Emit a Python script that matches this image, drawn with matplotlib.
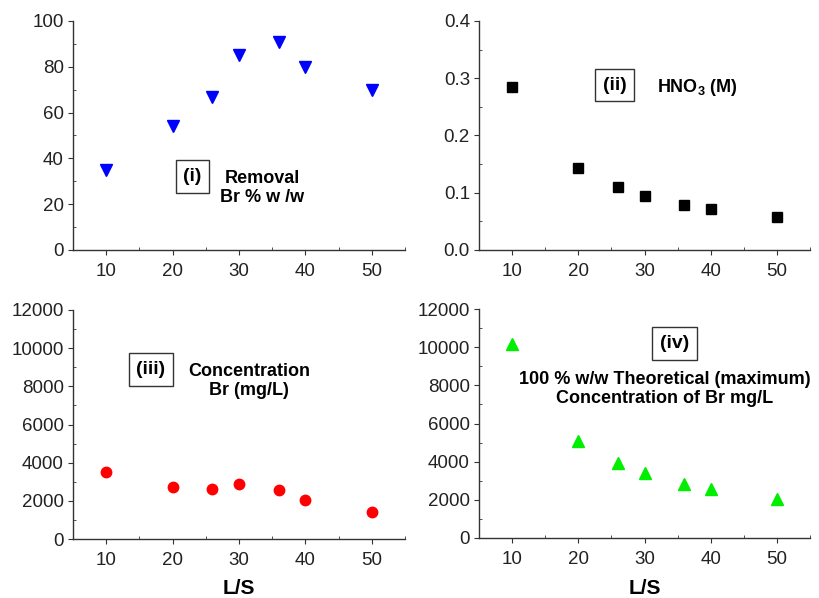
import matplotlib.pyplot as plt
from matplotlib.ticker import MultipleLocator

plt.rcParams['font.family'] = ['Liberation Sans', 'DejaVu Sans']
plt.rcParams['mathtext.fontset'] = 'custom'
plt.rcParams['mathtext.rm'] = 'Liberation Sans'
plt.rcParams['mathtext.bf'] = 'Liberation Sans:bold'

# L/S ratios
ls = [10, 20, 26, 30, 36, 40, 50]

removal = [35, 54, 67, 85, 91, 80, 70]
hno3 = [0.285, 0.143, 0.110, 0.095, 0.079, 0.072, 0.057]
conc_br = [3500, 2750, 2620, 2870, 2550, 2020, 1420]
theor_br = [10150, 5100, 3950, 3400, 2850, 2570, 2050]

fig = plt.figure(figsize=(8.19, 5.98), dpi=100)
W, H = 819, 598


def make_ax(x0, x1, ytop, ybot):
    return fig.add_axes([x0 / W, 1 - ybot / H, (x1 - x0) / W, (ybot - ytop) / H])


ax1 = make_ax(73, 405, 21, 250)
ax2 = make_ax(479, 810, 21, 250)
ax3 = make_ax(73, 405, 310, 539)
ax4 = make_ax(479, 810, 309, 538)

ax1.plot(ls, removal, 'v', color='#0000ff', markersize=9, linestyle='none')
ax2.plot(ls, hno3, 's', color='black', markersize=7, linestyle='none')
ax3.plot(ls, conc_br, 'o', color='#ff0000', markersize=7.5, linestyle='none')
ax4.plot(ls, theor_br, '^', color='#00ee00', markersize=8.5, linestyle='none')

ax1.set_ylim(0, 100)
ax1.yaxis.set_major_locator(MultipleLocator(20))
ax1.yaxis.set_minor_locator(MultipleLocator(10))
ax2.set_ylim(0, 0.4)
ax2.yaxis.set_major_locator(MultipleLocator(0.1))
ax2.yaxis.set_minor_locator(MultipleLocator(0.05))
for ax in (ax3, ax4):
    ax.set_ylim(0, 12000)
    ax.yaxis.set_major_locator(MultipleLocator(2000))
    ax.yaxis.set_minor_locator(MultipleLocator(1000))

for ax in (ax1, ax2, ax3, ax4):
    ax.set_xlim(5, 55)
    ax.xaxis.set_major_locator(MultipleLocator(10))
    ax.xaxis.set_minor_locator(MultipleLocator(5))
    ax.spines['top'].set_visible(False)
    ax.spines['right'].set_visible(False)
    for s in ('left', 'bottom'):
        ax.spines[s].set_color('#333333')
        ax.spines[s].set_linewidth(1.0)
    ax.tick_params(which='major', direction='out', length=3.5, colors='#333333',
                   labelsize=13.5, labelcolor='#222222')
    ax.tick_params(axis='x', which='major', pad=6)
    ax.tick_params(axis='y', which='major', pad=3)
    ax.tick_params(which='minor', direction='in', length=2.5, colors='#333333')

box = dict(boxstyle='square,pad=0.4', facecolor='white', edgecolor='#333333', linewidth=1)
bkw = dict(ha='center', va='center', fontsize=14, fontweight='bold', bbox=box)
tkw = dict(ha='center', va='center', fontsize=13, fontweight='bold', linespacing=1.15)

ax1.text(0.36, 0.32, '(i)', transform=ax1.transAxes, **bkw)
ax1.text(0.57, 0.27, 'Removal\nBr % w /w', transform=ax1.transAxes, **tkw)

ax2.text(0.41, 0.72, '(ii)', transform=ax2.transAxes, **bkw)
ax2.text(0.66, 0.71, r'$\mathbf{HNO_3}$ (M)', transform=ax2.transAxes, **tkw)

ax3.text(0.235, 0.74, '(iii)', transform=ax3.transAxes, **bkw)
ax3.text(0.53, 0.69, 'Concentration\nBr (mg/L)', transform=ax3.transAxes, **tkw)

ax4.text(0.59, 0.85, '(iv)', transform=ax4.transAxes, **bkw)
ax4.text(0.56, 0.65, '100 % w/w Theoretical (maximum)\nConcentration of Br mg/L',
         transform=ax4.transAxes, **tkw)

# x label under the bottom row
fig.text(239 / W, 1 - 588 / H, 'L/S', ha='center', va='center', fontsize=15, fontweight='bold')
fig.text(645 / W, 1 - 588 / H, 'L/S', ha='center', va='center', fontsize=15, fontweight='bold')

fig.savefig('out.png', dpi=100, facecolor='white')
